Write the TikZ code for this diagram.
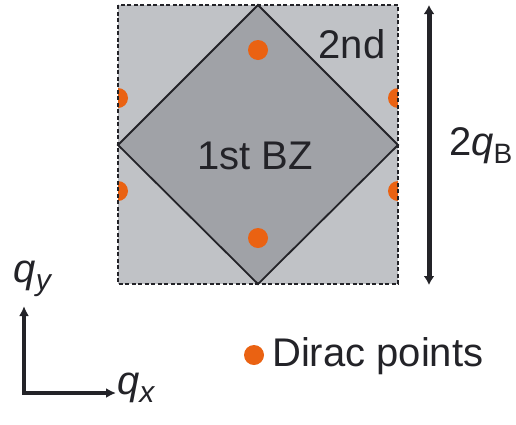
\documentclass[tikz,border=0pt]{standalone}
\usepackage{fontspec}
\setmainfont{Liberation Sans}
\usetikzlibrary{arrows.meta}
\definecolor{zoneTwo}{RGB}{192,194,198}
\definecolor{zoneOne}{RGB}{160,162,167}
\definecolor{dirac}{RGB}{234,98,18}
\definecolor{ink}{RGB}{35,35,40}
\tikzset{
  lbl/.style={inner sep=0pt, text=ink, font=\fontsize{40}{46}\selectfont},
  dirac dot/.style={fill=dirac, draw=none},
  axis arrow/.style={draw=ink, line width=3.5pt, -{Latex[length=10pt,width=10pt]}},
}
\begin{document}
\begin{tikzpicture}[x=1pt,y=-1pt]
\useasboundingbox (0,0) rectangle (516,424);
% second zone: square with dashed border
\coordinate (sqA) at (118,5);
\coordinate (sqB) at (398,284);
\fill[zoneTwo] (sqA) rectangle (sqB);
% first zone: diamond
\coordinate (dT) at (258,5);
\coordinate (dR) at (398,145);
\coordinate (dB) at (258,284);
\coordinate (dL) at (118,145);
\filldraw[fill=zoneOne, draw=ink, line width=1.8pt, line join=miter] (dT) -- (dR) -- (dB) -- (dL) -- cycle;
% Dirac points, clipped to the square
\begin{scope}
\clip (sqA) rectangle (sqB);
\foreach \p in {(258,50),(258,238),(118,98),(118,191),(398,98),(398,191)}
  \fill[dirac dot] \p circle (10);
\end{scope}
\draw[ink, line width=1.5pt, dash pattern=on 4pt off 2.5pt] (sqA) rectangle (sqB);
% labels
\node[lbl] (second) at (352,44) {2nd};
\node[lbl] (first) at (255,156) {1st BZ};
% size arrow
\coordinate (aTop) at (429,5);
\coordinate (aBot) at (429,285);
\draw[ink, line width=5pt, {Latex[length=9pt,width=11pt]}-{Latex[length=9pt,width=11pt]}] (aTop) -- (aBot);
\node[lbl, anchor=west] (size) at (449,146) {2\textit{q}\raisebox{-0.35ex}{\fontsize{28}{32}\selectfont B}};
% axes
\coordinate (origin) at (24,393);
\coordinate (yEnd) at (24,306);
\coordinate (xEnd) at (116,393);
\draw[axis arrow] (origin) -- (yEnd);
\draw[axis arrow] (origin) -- (xEnd);
\draw[ink, line width=3.5pt] ([xshift=-1.75pt]origin) -- (origin);
\node[lbl, anchor=south] (qy) at (33,297) {\textit{q}\raisebox{-0.4ex}{\fontsize{30}{34}\selectfont\textit{y}}};
\node[lbl, anchor=west] (qx) at (117,388) {\textit{q}\raisebox{-0.4ex}{\fontsize{30}{34}\selectfont\textit{x}}};
% legend
\fill[dirac dot] (254,355) circle (10);
\node[lbl, anchor=west] (legend) at (272,356) {Dirac points};
\end{tikzpicture}
\end{document}
